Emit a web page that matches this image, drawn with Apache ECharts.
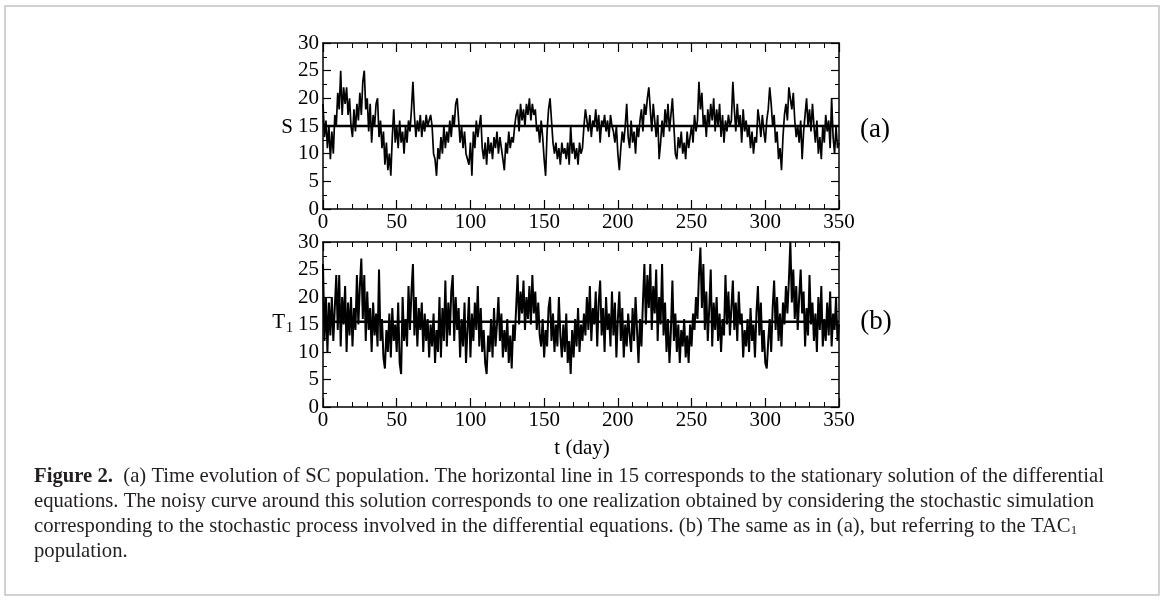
<!DOCTYPE html>
<html><head><meta charset="utf-8">
<script src="https://cdn.jsdelivr.net/npm/echarts@6/dist/echarts.min.js"></script>
<style>html,body{margin:0;padding:0;background:#fff}#c{width:1165px;height:600px}</style>
</head><body><div id="c"></div>
<script>
// S population, one value per day, t = 0..350
const sValues = [
19,13,16,11,15,9,14,10,17,15,
21,18,25,17,22,19,22,17,20,15,
13,18,14,19,16,21,17,23,25,18,
20,14,19,12,17,15,19,20,13,16,
11,14,8,12,7,10,6,13,18,12,
15,11,16,12,14,10,15,12,16,14,
18,23,17,13,16,14,17,13,16,14,
17,15,16,17,15,10,9,6,11,9,
13,10,15,11,14,12,16,13,17,15,
19,20,16,12,15,11,14,10,9,8,
12,6,14,11,16,13,15,17,11,9,
12,8,13,10,12,9,13,11,14,10,
13,11,9,7,12,10,14,11,13,12,
15,17,18,14,19,16,18,15,19,17,
20,16,19,17,18,14,15,12,16,13,
9,6,14,18,20,16,12,10,12,9,
11,8,12,10,11,9,12,8,15,10,
12,9,11,8,12,10,11,15,18,16,
14,17,13,16,15,18,14,17,12,16,
15,17,14,16,13,17,15,14,12,15,
10,7,11,14,12,15,19,13,11,16,
12,14,10,15,13,16,18,14,19,17,
20,22,18,14,19,16,13,17,9,12,
16,13,18,15,19,14,17,20,15,10,
9,13,11,14,10,12,9,14,11,13,
15,12,17,14,16,23,18,21,15,17,
13,18,15,19,16,20,14,18,15,19,
13,17,12,16,14,17,15,16,23,18,
14,19,15,17,12,18,14,16,13,15,
11,14,10,13,12,18,16,13,17,14,
12,16,18,22,19,15,17,12,14,9,
11,7,13,17,19,16,22,20,18,21,
16,13,15,12,16,9,14,17,20,15,
18,14,19,15,12,16,10,13,9,15,
12,17,14,16,11,20,13,10,15,11,
12];
// TAC1 population, one value per day, t = 0..350
const t1Values = [
26,12,20,10,19,13,20,12,18,24,
14,24,11,20,15,22,10,19,13,20,
11,18,14,24,15,22,27,16,24,12,
21,14,18,10,19,13,17,11,25,12,
16,9,7,14,10,17,9,18,12,15,
10,19,8,6,20,12,16,11,22,14,
21,26,13,20,11,18,14,19,10,17,
12,16,9,15,11,17,8,14,10,20,
9,18,12,23,11,19,13,21,24,12,
20,14,18,9,16,11,19,8,14,20,
9,17,12,19,14,22,11,18,10,14,
8,6,13,10,16,9,18,11,15,20,
12,17,9,14,10,16,8,13,7,15,
12,18,24,15,21,17,23,14,20,16,
22,15,24,17,21,14,19,13,11,16,
9,14,11,18,20,12,17,10,15,11,
20,13,9,15,10,17,8,12,6,14,
9,16,11,18,10,15,12,17,13,20,
14,22,12,18,15,21,11,19,23,13,
18,10,20,14,17,11,21,13,19,9,
16,21,12,18,9,15,11,17,13,10,
18,12,20,14,8,16,11,19,26,15,
24,18,26,14,22,17,25,12,20,15,
26,13,19,10,16,8,14,23,12,17,
10,15,8,14,11,16,9,13,8,15,
11,17,14,20,16,24,29,18,26,14,
21,12,18,25,11,19,14,20,12,17,
10,16,13,24,15,21,13,18,23,14,
19,12,21,15,17,9,14,11,16,10,
18,12,15,9,17,22,13,19,10,14,
8,7,12,16,10,18,23,14,20,12,
17,11,19,15,22,17,23,30,19,25,
16,22,14,20,25,17,21,11,18,13,
24,15,19,12,17,10,20,14,22,11,
16,12,19,13,21,11,17,14,20,12,
15];
const stationaryS = 15;
const stationaryT1 = 15.5;
const xMin = 0, xMax = 350, xStep = 50;
const yMin = 0, yMax = 30, yStep = 5;
const xName = 't (day)';
const captionLines = [
  '{b|Figure 2.}  (a) Time evolution of SC population. The horizontal line in 15 corresponds to the stationary solution of the differential',
  'equations. The noisy curve around this solution corresponds to one realization obtained by considering the stochastic simulation',
  'corresponding to the stochastic process involved in the differential equations. (b) The same as in (a), but referring to the TAC{s|1}',
  'population.'
];

const serif = '"Liberation Serif","DejaVu Serif",serif';
const pairs = vals => vals.map((v, i) => [i, v]);

function xAxes(g) {
  const base = {
    type: 'value', gridIndex: g, min: xMin, max: xMax, interval: xStep,
    axisLine: {show: true, onZero: false, lineStyle: {color: '#000', width: 1.5}},
    axisTick: {show: true, inside: true, length: 9, lineStyle: {color: '#000', width: 1.2}},
    minorTick: {show: true, splitNumber: 5, length: 5, lineStyle: {color: '#000', width: 1}},
    splitLine: {show: false}, minorSplitLine: {show: false}
  };
  return [
    Object.assign({}, base, {position: 'bottom',
      axisLabel: {show: true, color: '#000', fontFamily: serif, fontSize: 21, margin: 3}}),
    Object.assign({}, base, {position: 'top', axisLabel: {show: false}})
  ];
}
function yAxes(g) {
  const base = {
    type: 'value', gridIndex: g, min: yMin, max: yMax, interval: yStep,
    axisLine: {show: true, onZero: false, lineStyle: {color: '#000', width: 1.5}},
    axisTick: {show: true, inside: true, length: 8, lineStyle: {color: '#000', width: 1.2}},
    minorTick: {show: true, splitNumber: 2, length: 4, lineStyle: {color: '#000', width: 1}},
    splitLine: {show: false}, minorSplitLine: {show: false}
  };
  return [
    Object.assign({}, base, {position: 'left',
      axisLabel: {show: true, color: '#000', fontFamily: serif, fontSize: 21, margin: 4}}),
    Object.assign({}, base, {position: 'right', axisLabel: {show: false}})
  ];
}

const chart = echarts.init(document.getElementById('c'), null, {renderer: 'canvas'});
const lineA = {color: '#000', width: 1.7};
const lineB = {color: '#000', width: 2};
const hS = {color: '#000', width: 2.4};
chart.setOption({
  animation: false,
  backgroundColor: '#fff',
  grid: [
    {left: 323, top: 43, width: 516, height: 166},
    {left: 323, top: 242, width: 516, height: 165}
  ],
  xAxis: xAxes(0).concat(xAxes(1)),
  yAxis: yAxes(0).concat(yAxes(1)),
  series: [
    {type: 'line', xAxisIndex: 0, yAxisIndex: 0, data: pairs(sValues), step: 'end',
     showSymbol: false, lineStyle: lineA, silent: true, z: 2},
    {type: 'line', xAxisIndex: 0, yAxisIndex: 0, data: [[xMin, stationaryS], [xMax, stationaryS]],
     showSymbol: false, lineStyle: hS, silent: true, z: 3},
    {type: 'line', xAxisIndex: 2, yAxisIndex: 2, data: pairs(t1Values), step: 'end',
     showSymbol: false, lineStyle: lineB, silent: true, z: 2},
    {type: 'line', xAxisIndex: 2, yAxisIndex: 2, data: [[xMin, stationaryT1], [xMax, stationaryT1]],
     showSymbol: false, lineStyle: hS, silent: true, z: 3}
  ],
  graphic: [
    {type: 'rect', shape: {x: 5, y: 6, width: 1154, height: 589},
     style: {fill: 'none', stroke: '#c4c4c4', lineWidth: 1.5}, silent: true},
    {type: 'text', x: 287, y: 127, style: {text: 'S', font: '21px ' + serif, fill: '#000',
     align: 'center', verticalAlign: 'middle'}},
    {type: 'text', x: 293, y: 322, style: {text: 'T{s|1}', font: '21px ' + serif, fill: '#000',
     align: 'right', verticalAlign: 'middle',
     rich: {s: {fontSize: 14, fontFamily: serif, padding: [12, 0, 0, 1]}}}},
    {type: 'text', x: 875, y: 130, style: {text: '(a)', font: '27px ' + serif, fill: '#000',
     align: 'center', verticalAlign: 'middle'}},
    {type: 'text', x: 876, y: 322, style: {text: '(b)', font: '27px ' + serif, fill: '#000',
     align: 'center', verticalAlign: 'middle'}},
    {type: 'text', x: 582, y: 448, style: {text: xName, font: '21px ' + serif, fill: '#000',
     align: 'center', verticalAlign: 'middle'}}
  ].concat(captionLines.map((t, i) => ({
    type: 'text', left: 34, top: 466 + i * 25,
    style: {text: t, font: '20.7px ' + serif, fill: '#231f20',
      rich: {b: {fontWeight: 'bold', fontSize: 20.7, fontFamily: serif},
             s: {fontSize: 13, fontFamily: serif, padding: [9, 0, 0, 0]}}}
  })))
});
</script></body></html>
